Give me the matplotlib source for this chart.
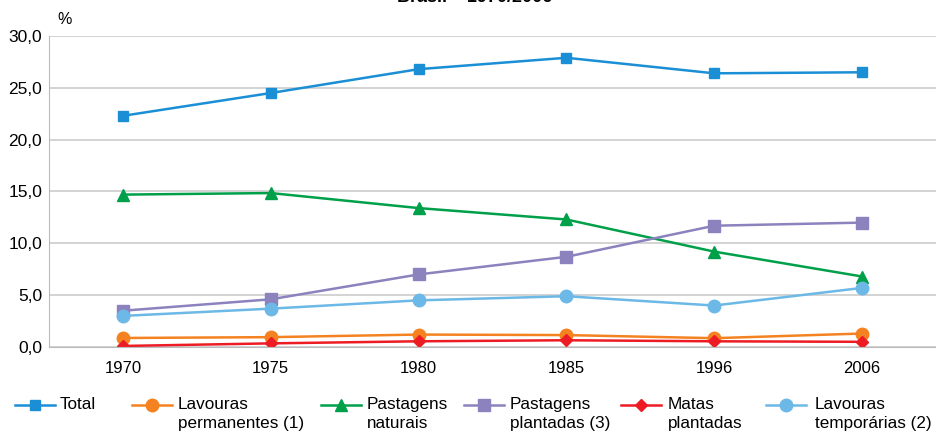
import matplotlib
matplotlib.use('Agg')
import matplotlib.pyplot as plt
from matplotlib.lines import Line2D

anos = ['1970', '1975', '1980', '1985', '1996', '2006']
total = [22.3, 24.5, 26.8, 27.9, 26.4, 26.5]
lav_perm = [0.87, 0.95, 1.2, 1.15, 0.85, 1.3]
past_nat = [14.7, 14.85, 13.4, 12.3, 9.2, 6.8]
past_plant = [3.5, 4.6, 7.0, 8.7, 11.7, 12.0]
matas = [0.1, 0.35, 0.55, 0.65, 0.55, 0.5]
lav_temp = [3.0, 3.7, 4.5, 4.9, 4.0, 5.7]

nomes = ['Total', 'Lavouras\npermanentes (1)', 'Pastagens\nnaturais',
         'Pastagens\nplantadas (3)', 'Matas\nplantadas', 'Lavouras\ntemporárias (2)']
cores = ['#1a8fd6', '#f58220', '#00a04a', '#8b82be', '#ed1c24', '#6cb8e6']
marcadores = ['s', 'o', '^', 's', 'D', 'o']
tamanhos = [7, 9, 8, 9, 6, 9]

# posicoes da legenda (inicio da linha, inicio do texto), em pixels
leg_x = [(15, 60), (132, 178), (321, 367), (464, 510), (621, 668), (766, 815)]

plt.rcParams['font.family'] = ['Liberation Sans', 'DejaVu Sans']

W, H = 936, 432
fig = plt.figure(figsize=(W/100, H/100), dpi=100)
ax = fig.add_axes([49/W, 1-347/H, 1-49/W, (347-36)/H])

series = [total, lav_perm, past_nat, past_plant, matas, lav_temp]
x = list(range(len(anos)))
for s, c, m, ms in zip(series, cores, marcadores, tamanhos):
    ax.plot(x, s, color=c, marker=m, markersize=ms, lw=1.8, markeredgecolor=c)

ax.set_xlim(-0.5, 5.5)
ax.set_ylim(0, 30)
ax.set_yticks(range(0, 31, 5))
ax.set_yticklabels([f'{v},0' for v in range(0, 31, 5)], fontsize=12.5)
ax.set_xticks(x)
ax.set_xticklabels(anos, fontsize=12)
ax.tick_params(axis='y', length=0, pad=5)
ax.tick_params(axis='x', length=0, pad=10)
ax.grid(axis='y', color='#cccccc', lw=1.2)
ax.set_axisbelow(True)
for sp in ['top', 'right']:
    ax.spines[sp].set_visible(False)
ax.spines['left'].set_color('#bbbbbb')
ax.spines['bottom'].set_color('#bbbbbb')

fig.text(57/W, 1-20/H, '%', fontsize=11.5, va='center')
fig.text(475/W, 1-2/H, 'Brasil – 1970/2006', fontsize=13, fontweight='bold',
         ha='center', va='baseline')

# legenda desenhada a mao
ly = 405
for (x0, xt), nome, c, m, ms in zip(leg_x, nomes, cores, marcadores, tamanhos):
    fig.add_artist(Line2D([x0/W, (x0+40)/W], [1-ly/H, 1-ly/H], color=c, lw=1.8))
    fig.add_artist(Line2D([(x0+20)/W], [1-ly/H], color=c, marker=m,
                          markersize=ms, markeredgecolor=c))
    fig.text(xt/W, 1-(ly-8)/H, nome, fontsize=12.3, va='top', ha='left',
             linespacing=1.35)

fig.savefig('out.png', dpi=100)
